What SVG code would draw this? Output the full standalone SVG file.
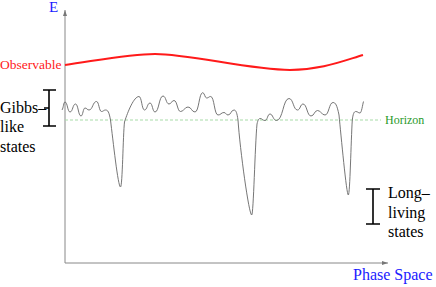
<svg xmlns="http://www.w3.org/2000/svg" width="436" height="287" viewBox="0 0 436 287">
<style>
text{font-family:'Liberation Serif','DejaVu Serif',serif;}
.lbl{font-size:16px;fill:#000;}
.blue{font-size:16px;fill:#1a1aff;}
.br{stroke:#000;stroke-width:1.6;fill:none;}
</style>
<defs>
<marker id="ah" viewBox="0 0 6 4" refX="6" refY="2" markerWidth="6" markerHeight="4" orient="auto" markerUnits="userSpaceOnUse">
<path d="M0,0 L6,2 L0,4 z" fill="#777"/>
</marker>
</defs>
<rect width="436" height="287" fill="#fff"/>
<g id="connectors">
<path id="y-axis" d="M65,263 L65,10" stroke="#888" stroke-width="1" fill="none" marker-end="url(#ah)"/>
<path id="x-axis" d="M65,263 L388,263" stroke="#888" stroke-width="1" fill="none" marker-end="url(#ah)"/>
<path id="horizon-line" d="M65,120 L381,120" stroke="#a8dca8" stroke-width="1.2" stroke-dasharray="3,2" fill="none"/>
<path id="observable-curve" d="M65,65 C100,60 130,54 155,54 C190,54 250,70 290,70 C320,70 340,62 363,55" stroke="#ff1a1a" stroke-width="2" fill="none"/>
<path id="energy-curve" fill="none" stroke="#666" stroke-width="0.9" d="M62,110 C63.5,108 63.5,102 65,102 C67.5,102 67.5,112 70,112 C72.75,112 72.75,104 75.5,104 C78.25,104 78.25,116 81,116 C83,116 83,108 85,108 C87,108 87,110 89,110 C92.75,110 92.75,101.5 96.5,101.5 C99,101.5 99,111.5 101.5,111.5 C103.5,111.5 103.5,110 105.5,110 C108,110 109,112 110.5,120 C113,140 118,187 120.5,187 C122.5,187 123,135 124.5,122 C128,111 134,96.5 139,96.5 C141.75,96.5 141.75,110 144.5,110 C147.25,110 147.25,103 150,103 C152.5,103 152.5,112 155,112 C159,112 159,96 163,96 C166,96 166,104 169,104 C171.5,104 171.5,100.5 174,100.5 C177.3,100.5 177.3,111.5 180.5,111.5 C184.25,111.5 184.25,107 188,107 C191.5,107 191.5,112 195,112 C199,112 199,92.7 202.7,92.7 C204.7,92.7 204.7,98 206.7,98 C208.7,98 208.7,96.5 210.7,96.5 C214.3,96.5 214.3,115 218,115 C221,115 221,112.5 224,112.5 C226,112.5 226,115 228,115 C231,115 231,110 234,110 C236,110 237,113 238,120 C240,150 249,215 251.7,215 C253.5,215 255,145 257,124 C258,119.5 259,118.5 260,118.5 C262.5,118.5 262.5,120.5 265,120.5 C267.5,120.5 267.5,114 270,114 C273,114 273,120.5 276.5,120.5 C283,120.5 283,98.5 289,98.5 C293.3,98.5 293.3,110 297.5,110 C300.3,110 300.3,104 303,104 C307,104 307,116 311,116 C314.3,116 314.3,110.5 317.5,110.5 C321.25,110.5 321.25,115 325,115 C329,115 329,102.5 333,102.5 C335.5,102.5 337,105 339,115 C341,135 346.5,195 348.3,195 C350,195 351,140 352.3,120 C353,114 354,111.5 355.7,111.5 C358,111.5 358,113 360,113 C361.5,113 362.5,105 363.5,101.5"/>
</g>
<g id="axis-labels">
<text class="blue" x="49" y="12" style="font-size:15px">E</text>
<text class="blue" x="353" y="280">Phase Space</text>
</g>
<g id="observable">
<text x="0" y="69" font-size="13.5" fill="#ff1a1a">Observable</text>
</g>
<g id="horizon">
<text x="385" y="124" font-size="12" fill="#2a9a2a">Horizon</text>
</g>
<g id="gibbs">
<path class="br" d="M43,90 L56,90 M49,90 L49,126 M43,126 L56,126 M44,108 L49,108"/>
<text class="lbl" x="0" y="112.5">Gibbs–</text>
<text class="lbl" x="0" y="132">like</text>
<text class="lbl" x="0" y="151.5">states</text>
</g>
<g id="long-living">
<path class="br" d="M366,189 L380,189 M373,189 L373,224 M366,224 L380,224"/>
<text class="lbl" x="388" y="198">Long–</text>
<text class="lbl" x="388" y="217.5">living</text>
<text class="lbl" x="388" y="236.5">states</text>
</g>
</svg>
